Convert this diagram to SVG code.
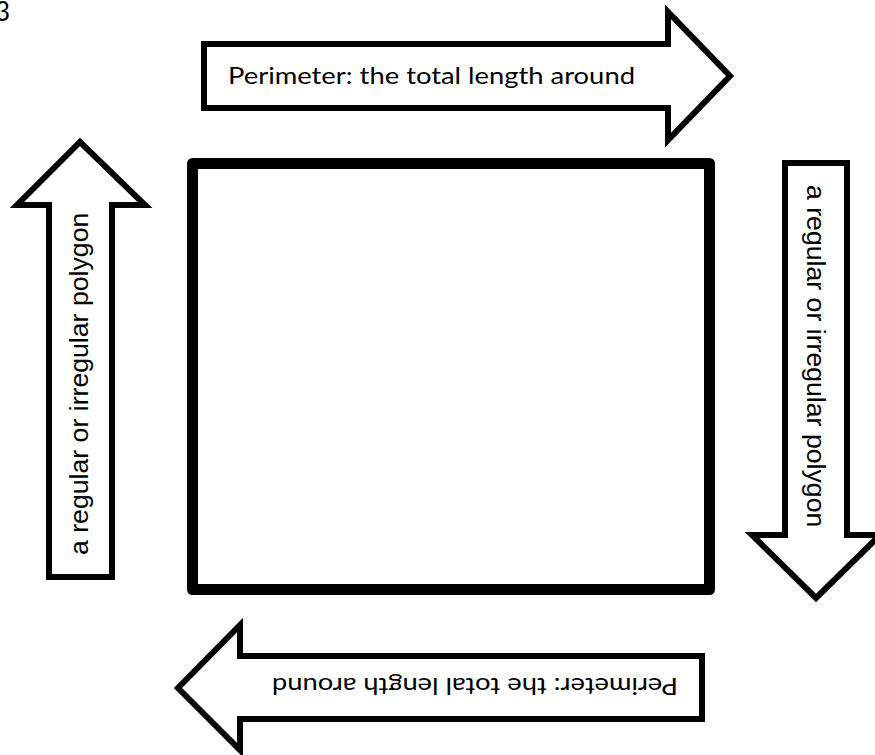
<svg xmlns="http://www.w3.org/2000/svg" width="875" height="755" viewBox="0 0 875 755">
<style>
.arrow{fill:#fff;stroke:#000;stroke-width:6;stroke-linejoin:miter}
.cal{font-family:Lato,"Open Sans","Liberation Sans",sans-serif;font-size:24px;fill:#000}
.ari{font-family:"Liberation Sans",Arial,sans-serif;font-size:26.67px;fill:#000}
</style>
<rect width="875" height="755" fill="#fff"/>
<text class="cal" x="-5" y="21" style="font-size:26px">3</text>
<g id="square">
<rect x="192.5" y="163.5" width="517" height="426" fill="#fff" stroke="#000" stroke-width="11" stroke-linejoin="round"/>
</g>
<g id="connectors">
<g id="arrow-top">
<path class="arrow" d="M204,44 L668,44 L668,12 L730,76 L668,140 L668,108 L204,108 Z"/>
<text class="cal" x="228" y="84" textLength="407" lengthAdjust="spacingAndGlyphs">Perimeter: the total length around</text>
</g>
<g id="arrow-right">
<path class="arrow" d="M785,163 L847,163 L847,535 L880,535 L816,598 L752,535 L785,535 Z"/>
<text class="ari" x="807" y="185" transform="rotate(90 807 185)">a regular or irregular polygon</text>
</g>
<g id="arrow-bottom">
<path class="arrow" d="M702,656 L240,656 L240,625 L178,688 L240,750 L240,719 L702,719 Z"/>
<text class="cal" x="678" y="678" transform="rotate(180 678 678)" textLength="406" lengthAdjust="spacingAndGlyphs">Perimeter: the total length around</text>
</g>
<g id="arrow-left">
<path class="arrow" d="M49,577 L49,205 L17,205 L80,142 L145,205 L112,205 L112,577 Z"/>
<text class="ari" x="88" y="555" transform="rotate(-90 88 555)">a regular or irregular polygon</text>
</g>
</g>
</svg>
